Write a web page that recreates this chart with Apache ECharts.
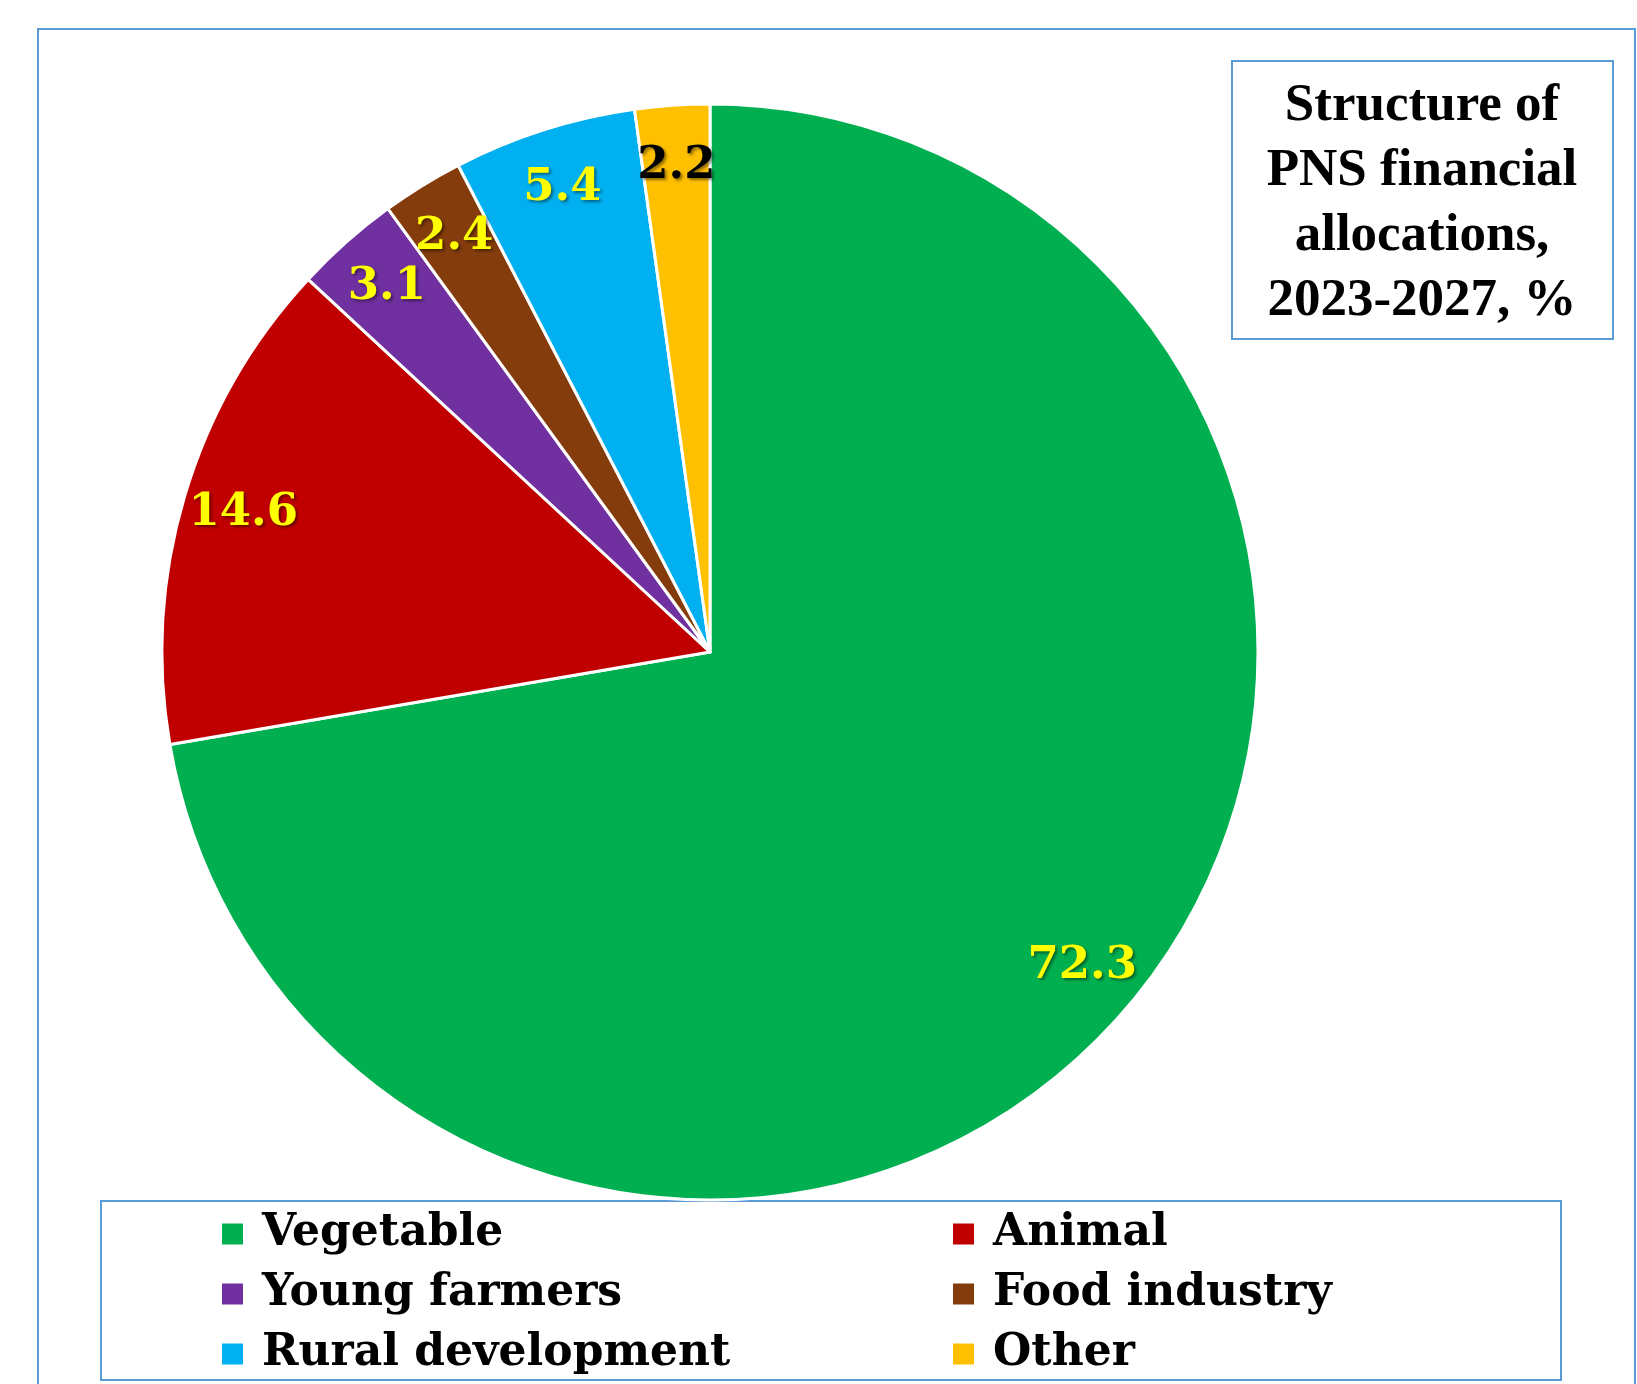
<!DOCTYPE html>
<html>
<head>
<meta charset="utf-8">
<script src="https://cdn.jsdelivr.net/npm/echarts@6/dist/echarts.min.js"></script>
<style>
html,body{margin:0;padding:0;background:#fff;}
#chart{width:1637px;height:1384px;}
</style>
</head>
<body>
<div id="chart"></div>
<script>
const categories = ['Vegetable', 'Animal', 'Young farmers', 'Food industry', 'Rural development', 'Other'];
const values = [72.3, 14.6, 3.1, 2.4, 5.4, 2.2];
const titleLines = ['Structure of', 'PNS financial', 'allocations,', '2023-2027, %'];

const sliceColors = ['#00B050', '#C00000', '#7030A0', '#843C0C', '#00B0F0', '#FFC000'];
const labelColors = ['#FFFF00', '#FFFF00', '#FFFF00', '#FFFF00', '#FFFF00', '#000000'];

const chart = echarts.init(document.getElementById('chart'), null, {renderer: 'canvas'});

const mainData = categories.map((c, i) => ({
  name: c, value: values[i], itemStyle: {color: sliceColors[i]}
}));
const labelData = categories.map((c, i) => ({
  name: c, value: values[i], label: {color: labelColors[i]}
}));

const borderColor = '#5B9BD5';

chart.setOption({
  animation: false,
  backgroundColor: '#ffffff',
  legend: {
    data: categories,
    left: 215,
    top: 1199,
    width: 1480,
    orient: 'horizontal',
    itemGap: 0,
    itemWidth: 23,
    itemHeight: 23,
    icon: 'rect',
    selectedMode: false,
    textStyle: {
      fontFamily: 'DejaVu Serif',
      fontWeight: 'bold',
      fontSize: 44,
      color: '#000',
      width: 689,
      padding: [0, 0, 0, 13],
      lineHeight: 60
    }
  },
  graphic: [
    {type: 'rect', shape: {x: 38, y: 29, width: 1597, height: 1400}, style: {fill: 'none', stroke: borderColor, lineWidth: 2}, z: -10},
    {type: 'rect', shape: {x: 1232, y: 61, width: 381, height: 278}, style: {fill: '#fff', stroke: borderColor, lineWidth: 2}, z: 5},
    {type: 'text', x: 1422, y: 204, z: 6,
      style: {text: titleLines.join('\n'), fill: '#000', font: 'bold 53px "Liberation Serif"', lineHeight: 65, align: 'center', verticalAlign: 'middle'}},
    {type: 'rect', shape: {x: 101, y: 1201, width: 1460, height: 179}, style: {fill: '#fff', stroke: borderColor, lineWidth: 2}, z: -1}
  ],
  series: [
    {
      type: 'pie',
      center: [710, 652],
      radius: [0, 548],
      startAngle: 90,
      clockwise: true,
      data: mainData,
      label: {show: false},
      labelLine: {show: false},
      itemStyle: {borderColor: '#ffffff', borderWidth: 3},
      emphasis: {disabled: true}
    },
    {
      type: 'pie',
      center: [710, 652],
      radius: [420, 548],
      startAngle: 90,
      clockwise: true,
      silent: true,
      avoidLabelOverlap: false,
      data: labelData,
      itemStyle: {color: 'rgba(0,0,0,0)', borderWidth: 0},
      labelLine: {show: false},
      label: {
        show: true,
        position: 'inside',
        formatter: p => p.value.toFixed(1),
        fontFamily: 'DejaVu Serif',
        fontWeight: 'bold',
        fontSize: 45,
        textBorderWidth: 0,
        textShadowColor: 'rgba(0,0,0,0.45)',
        textShadowBlur: 3,
        textShadowOffsetX: 2,
        textShadowOffsetY: 2
      },
      emphasis: {disabled: true}
    }
  ]
});
</script>
</body>
</html>
